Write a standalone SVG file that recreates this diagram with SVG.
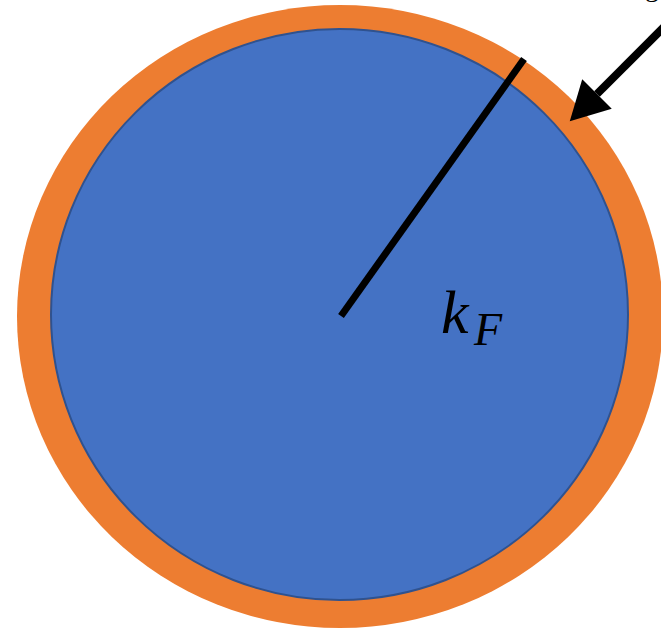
<svg xmlns="http://www.w3.org/2000/svg" width="661" height="628" viewBox="0 0 661 628">
  <style>
    .shell { fill: #ED7D31; }
    .core { fill: #4472C4; stroke: #2F528F; stroke-width: 2; }
    .line { stroke: #000; stroke-width: 7; fill: none; stroke-linecap: butt; }
    .arrow { stroke: #000; stroke-width: 8; fill: none; }
    .math { font-family: "Liberation Serif", "DejaVu Serif", serif; font-style: italic; fill: #000; }
    .lbl { font-family: "Liberation Serif", "DejaVu Serif", serif; fill: #000; }
  </style>
  <defs>
    <marker id="head" markerUnits="userSpaceOnUse" markerWidth="40" markerHeight="44" viewBox="0 -20 36 40" refX="0" refY="0" orient="auto">
      <path d="M0,-19 L35,0 L0,19 z" fill="#000"/>
    </marker>
  </defs>
  <rect width="661" height="628" fill="#fff"/>
  <g id="shell">
    <ellipse class="shell" cx="340" cy="316.5" rx="323" ry="311.5"/>
  </g>
  <g id="sphere">
    <ellipse class="core" cx="339.5" cy="314.5" rx="288.5" ry="285.5"/>
  </g>
  <g id="connectors">
    <line class="line" x1="341" y1="316" x2="524" y2="59"/>
    <line class="arrow" x1="664" y1="27" x2="597" y2="94" marker-end="url(#head)"/>
  </g>
  <g id="label-kF">
    <text class="math" x="441" y="333" font-size="62">k</text>
    <text class="math" x="474" y="345" font-size="46">F</text>
  </g>
  <g id="label-top">
    <text class="lbl" x="645" y="-4" font-size="28">g</text>
  </g>
</svg>
